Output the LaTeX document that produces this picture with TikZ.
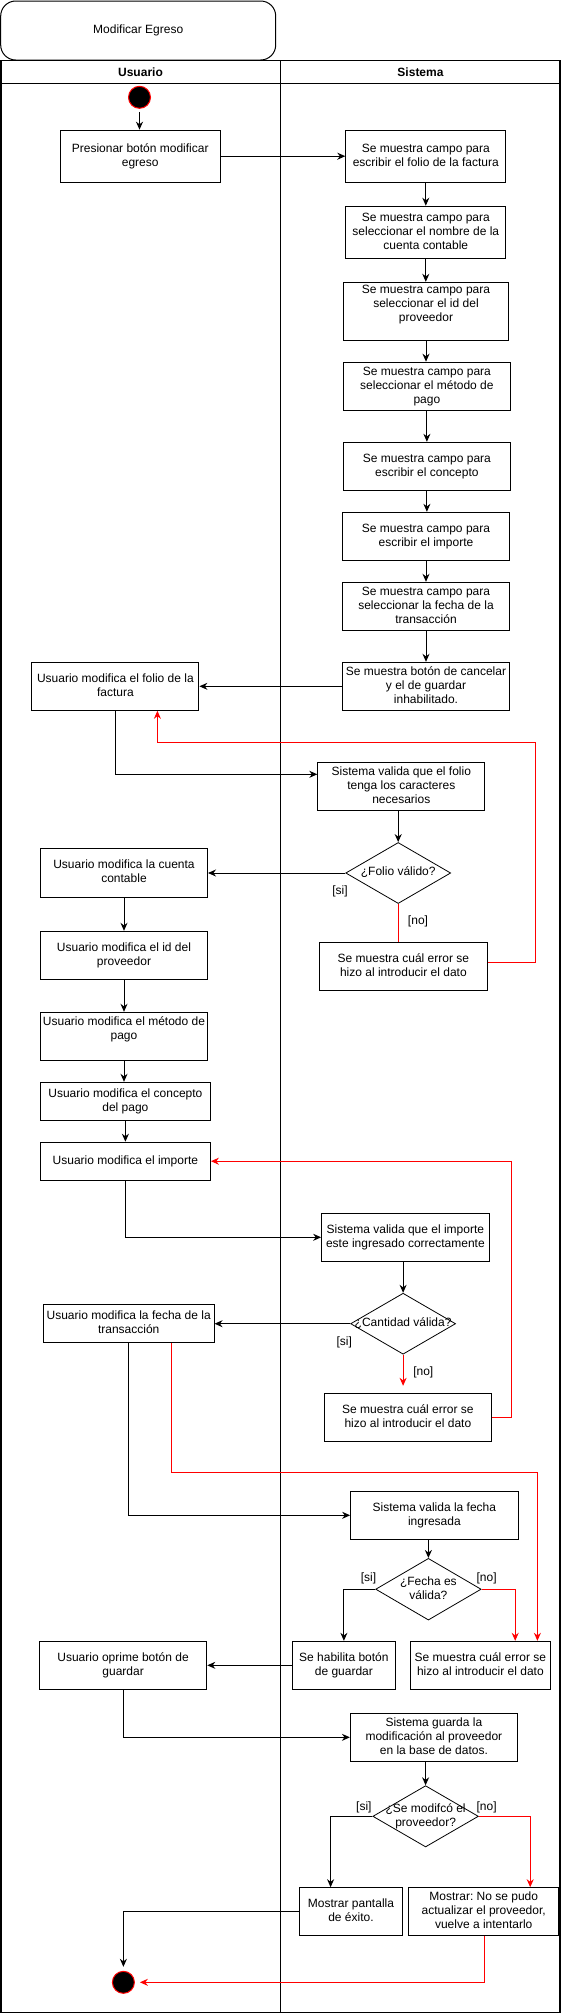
\documentclass[tikz,border=0pt]{standalone}
\usepackage{fontspec}
\setmainfont{Liberation Sans}
\usetikzlibrary{arrows.meta,shapes.geometric}
\frenchspacing
\newcommand{\tx}[1]{\makebox[0pt]{\begin{tabular}{@{}c@{}}#1\end{tabular}}}
\begin{document}
\begin{tikzpicture}[x=1pt,y=-1pt,
  every node/.style={font=\fontsize{12}{14}\selectfont},
  box/.style={draw, rectangle, inner sep=0pt, line width=1pt, fill=white},
  dec/.style={draw, diamond, inner sep=0pt, line width=0.8pt, fill=white},
  dot/.style={circle, fill=black, draw=red, line width=1pt, minimum size=22pt, inner sep=0pt},
  lbl/.style={inner sep=0pt},
  arr/.style={-{Stealth[length=8pt,width=7pt]}, line width=1pt},
  rarr/.style={arr, draw=red},
  rline/.style={draw=red, line width=1pt},
  lane/.style={line width=0.8pt}
]
\fill[white] (0,0) rectangle (561,2013);
\useasboundingbox (0,0) rectangle (561,2013);

% title
\node[draw, rounded corners=15pt, minimum width=275pt, minimum height=59pt, line width=1pt, inner sep=0pt] (title) at (138.2,30.5) {Modificar Egreso};

% pool
\draw[line width=1.5pt] (0.75,60.7) rectangle (560,2012.3);
\draw[lane] (0.75,83.3) -- (560,83.3);
\draw[lane] (280.5,60.7) -- (280.5,2012.3);
\node[font=\fontsize{12}{14}\selectfont\bfseries] (husr) at (140.5,72) {Usuario};
\node[font=\fontsize{12}{14}\selectfont\bfseries] (hsis) at (420.5,72) {Sistema};

% nodes
\node[dot] (start) at (139.5,97.3) {};
\node[box, minimum width=160pt, minimum height=52pt] (pres) at (140.2,156.2) {\tx{Presionar botón modificar\\egreso}};
\node[box, minimum width=160pt, minimum height=52pt] (s1) at (425.8,156.2) {\tx{Se muestra campo para\\escribir el folio de la factura}};
\node[box, minimum width=160pt, minimum height=52pt] (s2) at (425.8,232.2) {\tx{Se muestra campo para\\seleccionar el nombre de la\\cuenta contable}};
\node[box, minimum width=165pt, minimum height=58pt] (s3) at (426,311.3) {\tx{Se muestra campo para\\seleccionar el id del\\proveedor\\\mbox{}}};
\node[box, minimum width=167pt, minimum height=48pt] (s4) at (426.9,386.2) {\tx{Se muestra campo para\\seleccionar el método de\\pago}};
\node[box, minimum width=167pt, minimum height=48pt] (s5) at (426.9,466.3) {\tx{Se muestra campo para\\escribir el concepto}};
\node[box, minimum width=167pt, minimum height=48pt] (s6) at (426,536.3) {\tx{Se muestra campo para\\escribir el importe}};
\node[box, minimum width=167pt, minimum height=48pt] (s7) at (426,606.3) {\tx{Se muestra campo para\\seleccionar la fecha de la\\transacción}};
\node[box, minimum width=167pt, minimum height=48pt] (s8) at (426,686.3) {\tx{Se muestra botón de cancelar\\y el de guardar\\inhabilitado.}};
\node[box, minimum width=167pt, minimum height=48pt] (u1) at (115.4,686.3) {\tx{Usuario modifica el folio de la\\factura}};
\node[box, minimum width=167pt, minimum height=48pt] (sv1) at (401.3,786.3) {\tx{Sistema valida que el folio\\tenga los caracteres\\necesarios}};
\node[dec, minimum width=105pt, minimum height=61pt] (d1) at (398.2,873) {\tx{¿Folio válido?}};
\node[box, minimum width=167pt, minimum height=48.7pt] (u2) at (124,872.7) {\tx{Usuario modifica la cuenta\\contable}};
\node[box, minimum width=168pt, minimum height=48pt] (e1) at (403.4,966.3) {\tx{Se muestra cuál error se\\hizo al introducir el dato}};
\node[box, minimum width=167pt, minimum height=48pt] (u3) at (124,955.3) {\tx{Usuario modifica el id del\\proveedor}};
\node[box, minimum width=167pt, minimum height=48pt] (u4) at (124,1036.3) {\tx{Usuario modifica el método de\\pago\\\mbox{}}};
\node[box, minimum width=170pt, minimum height=38pt] (u5) at (125.4,1101.3) {\tx{Usuario modifica el concepto\\del pago}};
\node[box, minimum width=170pt, minimum height=38pt] (u6) at (125.4,1161.2) {\tx{Usuario modifica el importe}};
\node[box, minimum width=167.5pt, minimum height=48pt] (sv2) at (405.4,1237.3) {\tx{Sistema valida que el importe\\este ingresado correctamente}};
\node[dec, minimum width=105pt, minimum height=61pt] (d2) at (403.1,1323.7) {\tx{¿Cantidad válida?}};
\node[box, minimum width=170.7pt, minimum height=38pt] (u7) at (128.7,1323.3) {\tx{Usuario modifica la fecha de la\\transacción}};
\node[box, minimum width=167pt, minimum height=48pt] (e2) at (407.9,1417.3) {\tx{Se muestra cuál error se\\hizo al introducir el dato}};
\node[box, minimum width=167.5pt, minimum height=48pt] (sv3) at (434.4,1515.3) {\tx{Sistema valida la fecha\\ingresada}};
\node[dec, minimum width=105.5pt, minimum height=61.7pt] (d3) at (428.4,1589.2) {\tx{¿Fecha es\\válida?}};
\node[box, minimum width=102.3pt, minimum height=48pt] (hab) at (343.9,1665.3) {\tx{Se habilita botón\\de guardar}};
\node[box, minimum width=140pt, minimum height=48pt] (e3) at (480.4,1665.3) {\tx{Se muestra cuál error se\\hizo al introducir el dato}};
\node[box, minimum width=167.4pt, minimum height=48pt] (u8) at (123.1,1665.3) {\tx{Usuario oprime botón de\\guardar}};
\node[box, minimum width=167pt, minimum height=48pt] (sv4) at (433.9,1737.3) {\tx{Sistema guarda la\\modificación al proveedor\\en la base de datos.}};
\node[dec, minimum width=105.6pt, minimum height=61.3pt] (d4) at (425.6,1816.3) {\tx{¿Se modifcó el\\proveedor?}};
\node[box, minimum width=102.3pt, minimum height=47.6pt] (ok) at (351,1911.5) {\tx{Mostrar pantalla\\de éxito.}};
\node[box, minimum width=150.2pt, minimum height=47.6pt] (fail) at (483.7,1911.5) {\tx{Mostrar: No se pudo\\actualizar el proveedor,\\vuelve a intentarlo}};
\node[dot] (end) at (123.4,1982.3) {};

% labels
\node[lbl] (l1si) at (340,891.7) {[si]};
\node[lbl] (l1no) at (418,921.7) {[no]};
\node[lbl] (l2si) at (344.2,1342.7) {[si]};
\node[lbl] (l2no) at (423.3,1372.7) {[no]};
\node[lbl] (l3si) at (368.5,1578.3) {[si]};
\node[lbl] (l3no) at (486.6,1578.3) {[no]};
\node[lbl] (l4si) at (363.9,1807.7) {[si]};
\node[lbl] (l4no) at (486.6,1807.3) {[no]};

% connectors
\draw[arr, shorten <=3pt] (start.south) -- (start.south |- pres.north);
\draw[arr] (pres.east) -- (s1.west);
\draw[arr] (s1.south) -- (s1.south |- s2.north);
\draw[arr] (s2.south) -- (s2.south |- s3.north);
\draw[arr] (s3.south) -- (s3.south |- s4.north);
\draw[arr] (s4.south) -- (s4.south |- s5.north);
\draw[arr] (s5.south) -- (s5.south |- s6.north);
\draw[arr] (s6.south) -- (s6.south |- s7.north);
\draw[arr] (s7.south) -- (s7.south |- s8.north);
\draw[arr] (s8.west) -- (u1.east);
\draw[arr] (u1.south) |- ([yshift=12pt]sv1.west);
\draw[arr] (d1.north |- sv1.south) -- (d1.north);
\draw[arr] (d1.west) -- (d1.west -| u2.east);
\draw[rline] (d1.south) -- (d1.south |- e1.north);
\draw[rarr] ([yshift=4pt]e1.east) -| (535.2,742) -| ([xshift=42pt]u1.south);
\draw[arr] (u2.south) -- (u2.south |- u3.north);
\draw[arr] (u3.south) -- (u3.south |- u4.north);
\draw[arr] (u4.south) -- (u4.south |- u5.north);
\draw[arr] (u5.south) -- (u5.south |- u6.north);
\draw[arr] (u6.south) |- (sv2.west);
\draw[arr] (d2.north |- sv2.south) -- (d2.north);
\draw[arr] (d2.west) -- (d2.west -| u7.east);
\draw[rarr, shorten >=7pt] (d2.south) -- (d2.south |- e2.north);
\draw[rarr] (e2.east) -- ++(19.7,0) |- (u6.east);
\draw[arr] (u7.south) |- (sv3.west);
\draw[rarr] ([xshift=43pt]u7.south) |- (537.4,1472) -| ([xshift=57pt]e3.north);
\draw[arr] (d3.north |- sv3.south) -- (d3.north);
\draw[arr] (d3.west) -| (hab.north);
\draw[rarr] (d3.east) -| ([xshift=34.8pt]e3.north);
\draw[arr] (hab.west) -- (u8.east);
\draw[arr] (u8.south) |- (sv4.west);
\draw[arr] (d4.north |- sv4.south) -- (d4.north);
\draw[arr] (d4.west) -| ([xshift=-20.4pt]ok.north);
\draw[rarr] (d4.east) -| ([xshift=46.5pt]fail.north);
\draw[arr, shorten >=4pt] (ok.west) -| (end.north);
\draw[rarr, shorten >=5pt] ([xshift=0.7pt]fail.south) |- (end.east);
\end{tikzpicture}
\end{document}
